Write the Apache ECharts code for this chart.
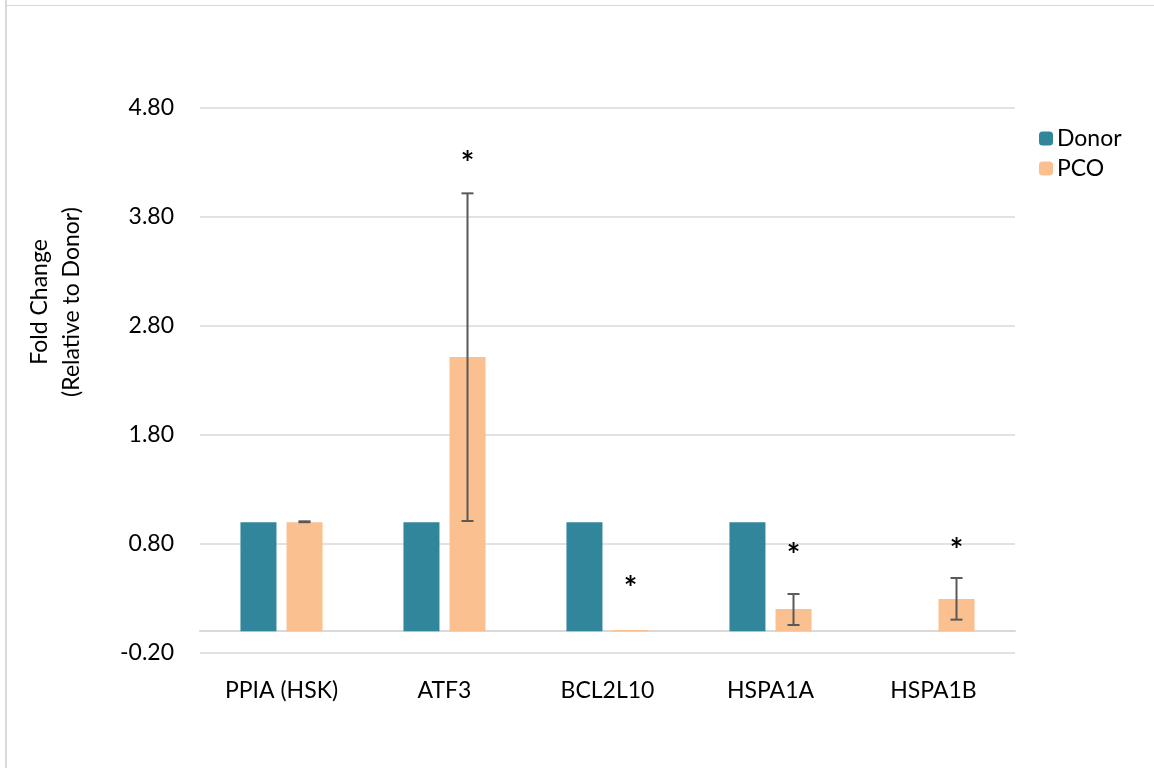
<!DOCTYPE html>
<html>
<head>
<meta charset="utf-8">
<script src="https://cdn.jsdelivr.net/npm/echarts@6/dist/echarts.min.js"></script>
<style>
html,body{margin:0;padding:0;background:#fff;}
#chart{width:1154px;height:768px;}
</style>
</head>
<body>
<div id="chart"></div>
<script>
const categories = ['PPIA (HSK)', 'ATF3', 'BCL2L10', 'HSPA1A', 'HSPA1B'];
const donorValues = [1.0, 1.0, 1.0, 1.0, null];
const pcoValues = [1.0, 2.515, 0.01, 0.204, 0.295];
const pcoErrLow = [1.0, 1.011, 0.01, 0.057, 0.106];
const pcoErrHigh = [1.008, 4.017, 0.01, 0.341, 0.488];
const sigMarks = ['', '*', '*', '*', '*'];
const sigMarkY = [null, 4.32, 0.42, 0.716, 0.77];
const yTicks = { min: -0.2, max: 4.8, interval: 1 };

const FONT = 'Lato';
const FS = 23;
const PCO_OFFSET = 23;

const chart = echarts.init(document.getElementById('chart'), null, { renderer: 'canvas' });

const errData = categories.map((c, i) => [i, pcoErrLow[i], pcoErrHigh[i]]);
const sigData = categories.map((c, i) => [i, sigMarkY[i], sigMarks[i]]).filter(d => d[1] != null);

chart.setOption({
  backgroundColor: '#ffffff',
  animation: false,
  textStyle: { fontFamily: FONT },
  graphic: [
    { type: 'line', shape: { x1: 6, y1: 0, x2: 6, y2: 768 }, style: { stroke: '#d9d9d9', lineWidth: 2 } },
    { type: 'line', shape: { x1: 6, y1: 5.5, x2: 1154, y2: 5.5 }, style: { stroke: '#d9d9d9', lineWidth: 1 } },
    {
      type: 'text', x: 56, y: 302, rotation: Math.PI / 2,
      style: {
        text: 'Fold Change\n(Relative to Donor)', font: FS + 'px ' + FONT, fill: '#000',
        textAlign: 'center', textVerticalAlign: 'middle', lineHeight: 32
      }
    }
  ],
  legend: {
    orient: 'vertical', left: 1034, top: 122,
    itemWidth: 14, itemHeight: 14, itemGap: 7,
    textStyle: { fontSize: FS, color: '#000', fontFamily: FONT, padding: [0, 0, 0, -1] },
    data: ['Donor', 'PCO']
  },
  grid: { left: 200, right: 139, top: 108, bottom: 115, containLabel: false },
  xAxis: {
    type: 'category', data: categories,
    axisLine: { show: true, onZero: true, lineStyle: { color: '#d9d9d9', width: 2 } },
    axisTick: { show: false },
    axisLabel: { color: '#000', fontSize: FS, fontFamily: FONT, margin: 26 },
    splitLine: { show: false }
  },
  yAxis: {
    type: 'value', min: yTicks.min, max: yTicks.max, interval: yTicks.interval,
    axisLine: { show: false }, axisTick: { show: false },
    axisLabel: { color: '#000', fontSize: FS, fontFamily: FONT, margin: 26, formatter: v => v.toFixed(2) },
    splitLine: { lineStyle: { color: '#d9d9d9', width: 1.5 } }
  },
  series: [
    { name: 'Donor', type: 'bar', data: donorValues, barWidth: 36, barGap: '28%', itemStyle: { color: '#31869b' } },
    { name: 'PCO', type: 'bar', data: pcoValues, barWidth: 36, itemStyle: { color: '#fac090' } },
    {
      type: 'custom', data: errData, z: 10,
      renderItem: function (params, api) {
        const i = api.value(0);
        const lo = api.coord([i, api.value(1)]);
        const hi = api.coord([i, api.value(2)]);
        if (Math.abs(lo[1] - hi[1]) < 0.5) return null;
        const x = lo[0] + PCO_OFFSET;
        const cw = 6;
        const st = { stroke: '#595959', lineWidth: 2 };
        return {
          type: 'group', children: [
            { type: 'line', shape: { x1: x, y1: lo[1], x2: x, y2: hi[1] }, style: st },
            { type: 'line', shape: { x1: x - cw, y1: lo[1], x2: x + cw, y2: lo[1] }, style: st },
            { type: 'line', shape: { x1: x - cw, y1: hi[1], x2: x + cw, y2: hi[1] }, style: st }
          ]
        };
      }
    },
    {
      type: 'custom', data: sigData, z: 11,
      renderItem: function (params, api) {
        const i = api.value(0);
        const p = api.coord([i, api.value(1)]);
        return {
          type: 'text', x: p[0] + PCO_OFFSET, y: p[1] + 4,
          style: { text: sigMarks[i], font: 'bold 32px ' + FONT, fill: '#000', textAlign: 'center', textVerticalAlign: 'middle' }
        };
      }
    }
  ]
});
</script>
</body>
</html>
